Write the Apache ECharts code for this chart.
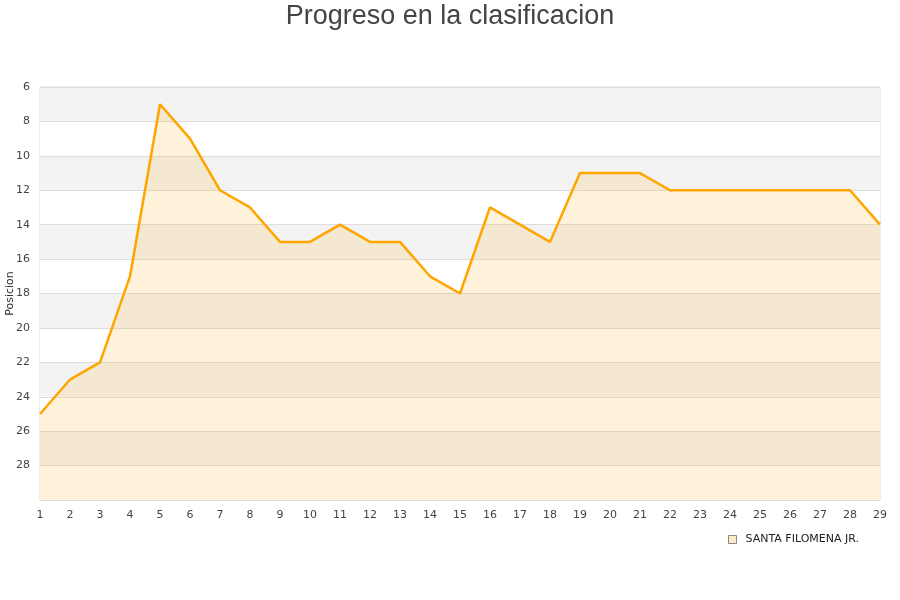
<!DOCTYPE html>
<html><head><meta charset="utf-8">
<script src="https://cdn.jsdelivr.net/npm/echarts@6/dist/echarts.min.js"></script>
<style>html,body{margin:0;padding:0;background:#fff}#c{width:900px;height:600px}</style>
</head><body><div id="c"></div>
<script>
const jornadas = [1,2,3,4,5,6,7,8,9,10,11,12,13,14,15,16,17,18,19,20,21,22,23,24,25,26,27,28,29];
const posiciones = [25,23,22,17,7,9,12,13,15,15,14,15,15,17,18,13,14,15,11,11,11,12,12,12,12,12,12,12,14];
const teamName = 'SANTA FILOMENA JR.';

const chart = echarts.init(document.getElementById('c'));
chart.setOption({
  animation: false,
  title: { text: 'Progreso en la clasificacion', left: 'center', top: 0, padding: [3, 5, 5, 5],
    textStyle: { fontFamily: 'Liberation Sans', fontSize: 27, fontWeight: 'normal', color: '#444' } },
  legend: { right: 36, top: 529, itemWidth: 8, itemHeight: 8, icon: 'rect', itemGap: 10,
    textStyle: { fontFamily: 'DejaVu Sans', fontSize: 11, color: '#222', padding: [0, 0, 0, 4] },
    data: [{ name: teamName, itemStyle: { color: '#FFEBC8', borderColor: '#888', borderWidth: 1 } }] },
  grid: { left: 40, right: 20, top: 87, bottom: 100, show: true, borderColor: '#ddd', borderWidth: 1,
    containLabel: false, outerBoundsMode: 'none' },
  xAxis: { type: 'value', min: 1, max: 29, interval: 1,
    axisLine: { show: false }, axisTick: { show: false }, splitLine: { show: false },
    axisLabel: { fontFamily: 'DejaVu Sans', fontSize: 11, color: '#444', margin: 10 } },
  yAxis: { type: 'value', inverse: true, min: 6, max: 30, interval: 2,
    name: 'Posicion', nameLocation: 'middle', nameGap: 24, nameRotate: 90, nameMoveOverlap: false,
    nameTextStyle: { fontFamily: 'DejaVu Sans', fontSize: 11, color: '#333' },
    axisLine: { show: false }, axisTick: { show: false },
    axisLabel: { fontFamily: 'DejaVu Sans', fontSize: 11, color: '#444', margin: 10,
      formatter: v => v === 30 ? '' : v },
    splitLine: { show: true, lineStyle: { color: '#ddd' } },
    splitArea: { show: true, areaStyle: { color: ['#f3f3f3', '#ffffff'] } } },
  series: [{
    name: teamName, type: 'line', data: jornadas.map((j, i) => [j, posiciones[i]]),
    symbol: 'none', lineStyle: { color: '#FFA500', width: 2.5 }, itemStyle: { color: '#FFA500' },
    areaStyle: { color: 'rgba(255,176,33,0.23)', origin: 'end' }
  }]
});
</script></body></html>
